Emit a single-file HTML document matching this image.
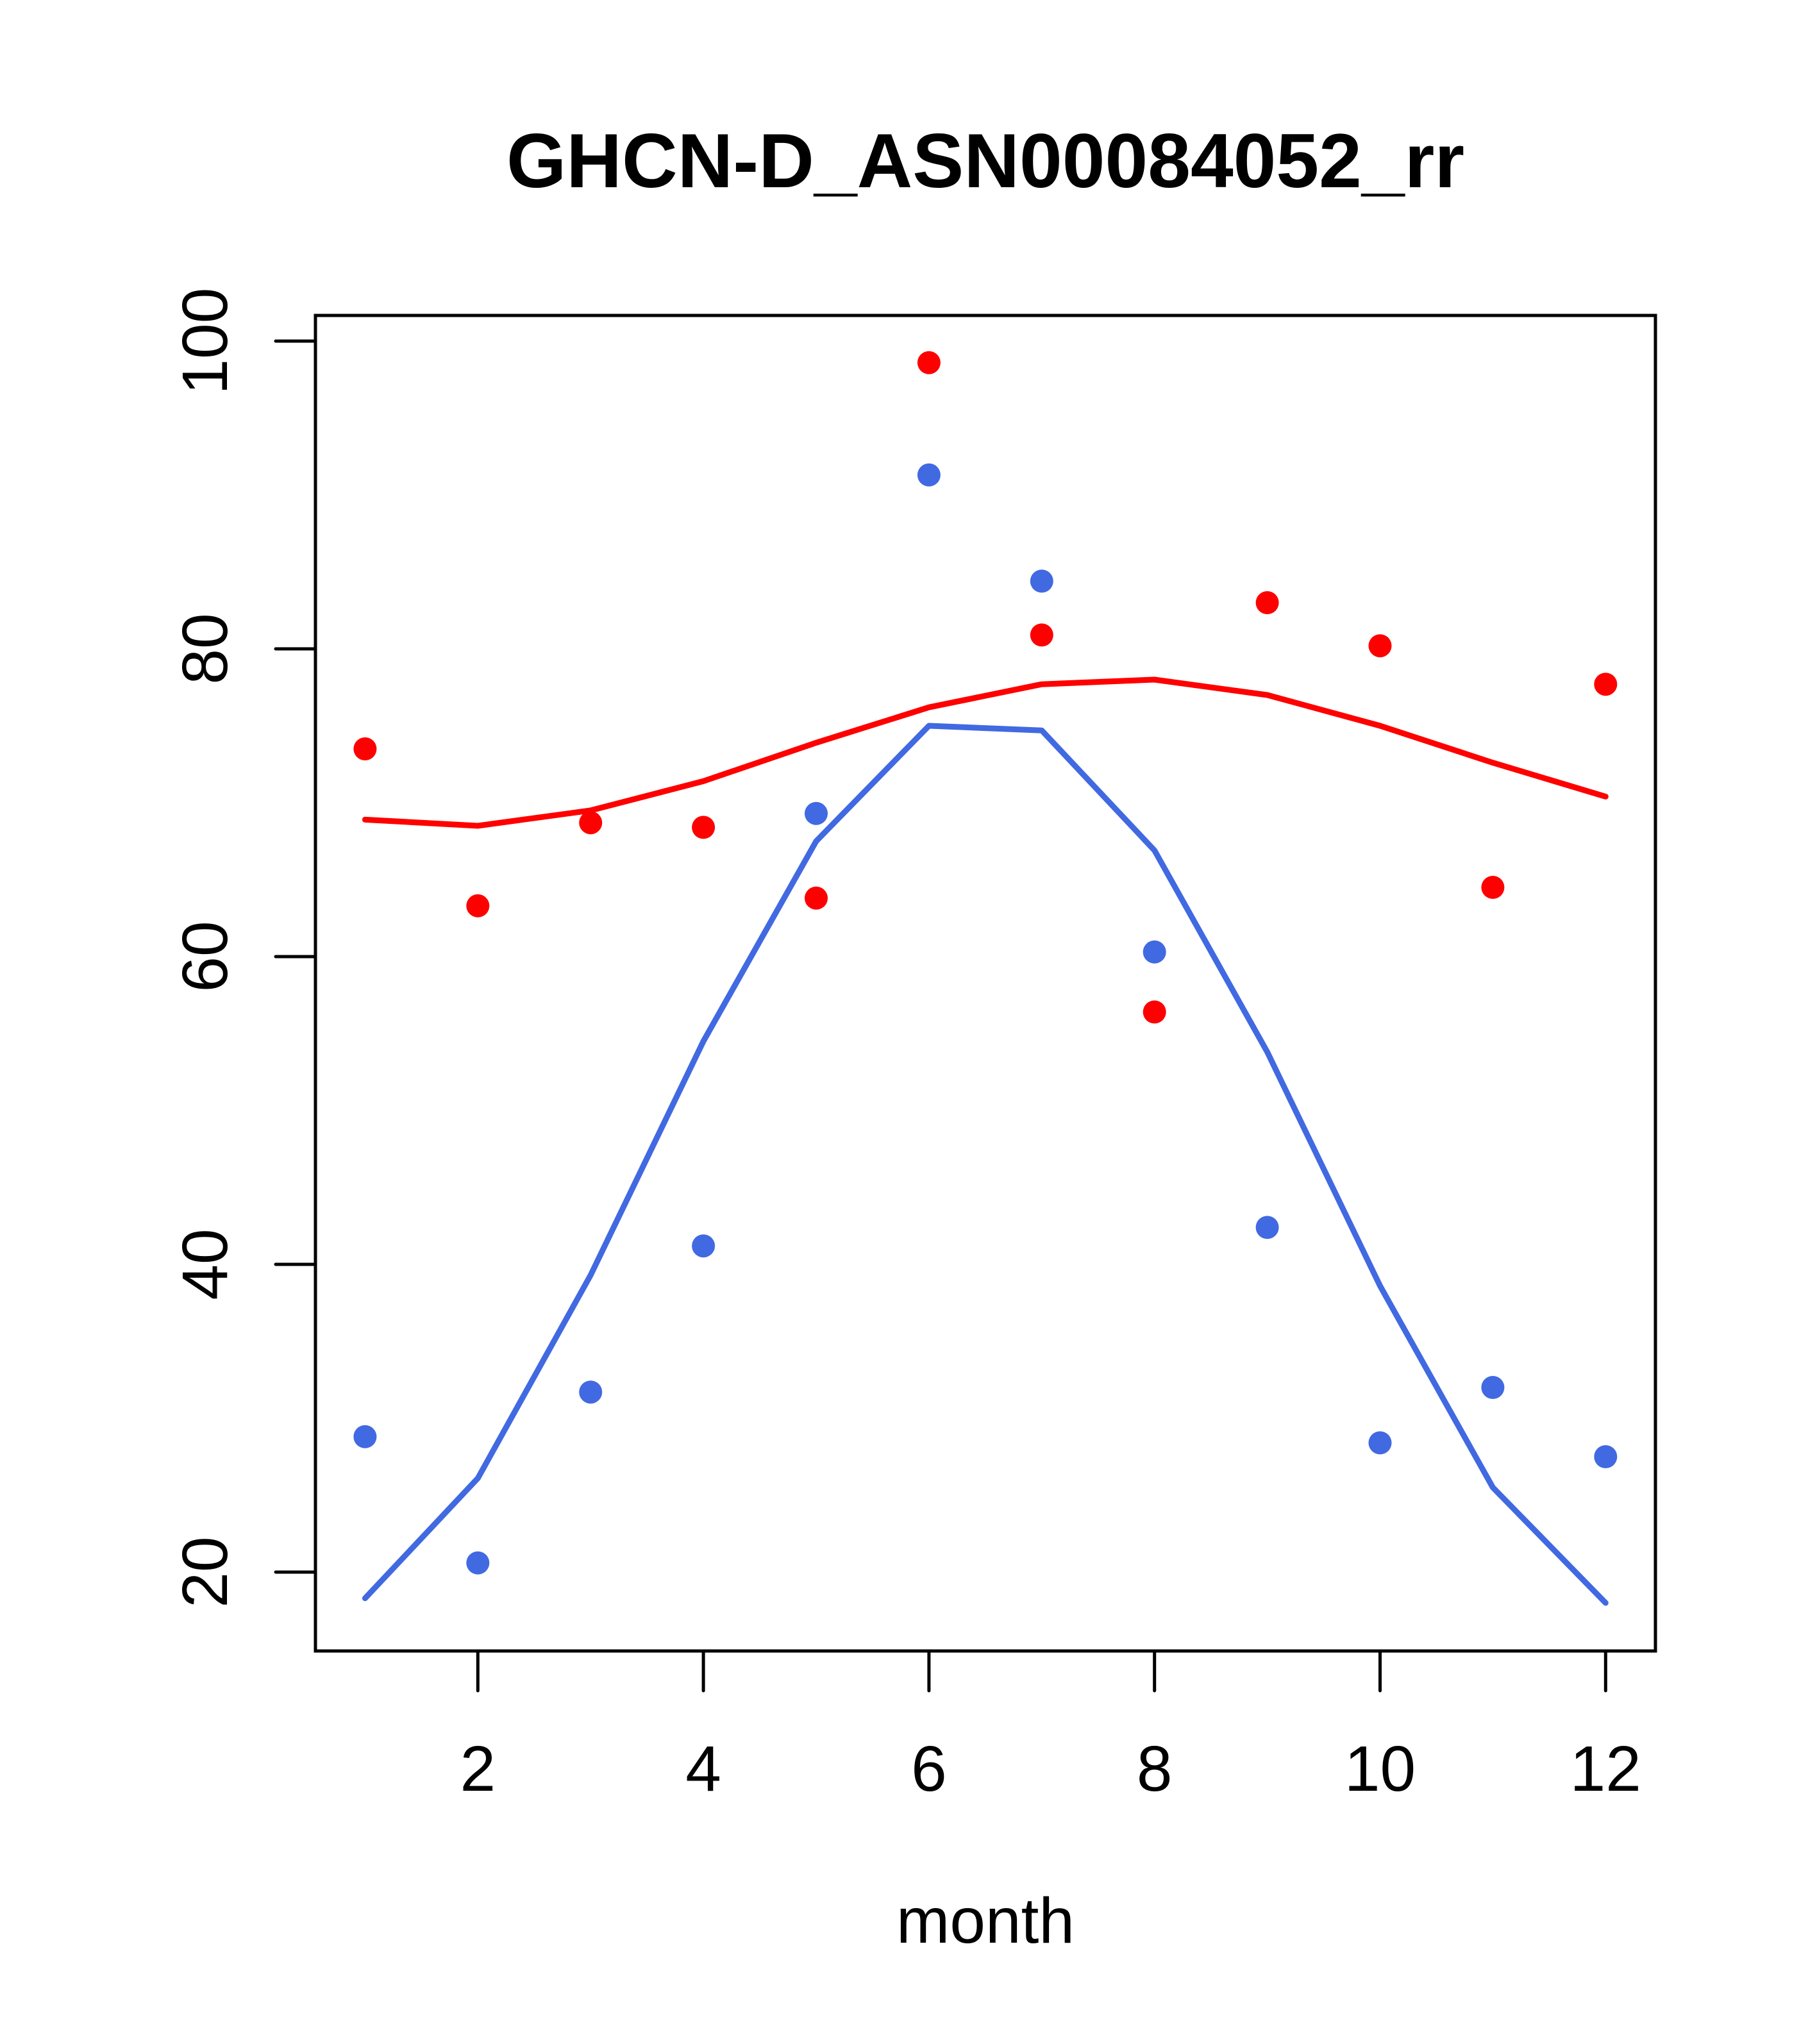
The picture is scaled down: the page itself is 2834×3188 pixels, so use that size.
<!DOCTYPE html>
<html><head><meta charset="utf-8"><style>html,body{margin:0;padding:0;background:#fff}svg{display:block}</style></head>
<body>
<svg id="chart" width="2834" height="3188" viewBox="0 0 2834 3188" xmlns="http://www.w3.org/2000/svg" font-family="'Liberation Sans', Arial, sans-serif">
<rect x="0" y="0" width="2834" height="3188" fill="#fff"/>
<text x="1537" y="292" text-anchor="middle" font-size="120" font-weight="bold">GHCN-D_ASN00084052_rr</text>
<text x="1537" y="3030" text-anchor="middle" font-size="100">month</text>
<g id="axes"></g>
<g id="series"></g>
<rect x="492" y="492" width="2090" height="2083" fill="none" stroke="#000" stroke-width="5"/>
</svg>
<script>
const months = [1,2,3,4,5,6,7,8,9,10,11,12];
const redPoints = [73.5,63.3,68.7,68.4,63.8,98.6,80.9,56.4,83.0,80.2,64.5,77.7];
const bluePoints = [28.8,20.6,31.7,41.2,69.3,91.3,84.4,60.3,42.4,28.4,32.0,27.5];
const redLine = [68.9,68.5,69.5,71.4,73.9,76.2,77.7,78.0,77.0,75.0,72.6,70.4];
const blueLine = [18.3,26.1,39.3,54.5,67.5,75.0,74.7,66.9,53.8,38.6,25.5,18.0];
const xTicks = [2,4,6,8,10,12];
const yTicks = [20,40,60,80,100];

const NS = 'http://www.w3.org/2000/svg';
function xs(m){ return 569.4 + (m-1)*175.9; }
function ys(v){ return 532 + (100-v)*24.0; }
function mk(tag, attrs, parent){ const e=document.createElementNS(NS,tag); for(const k in attrs) e.setAttribute(k,attrs[k]); parent.appendChild(e); return e; }
const axes=document.getElementById('axes'), ser=document.getElementById('series');

xTicks.forEach(t=>{
  const l=mk('line',{x1:xs(t),x2:xs(t),y1:2575,y2:2637,stroke:'#000','stroke-width':5,'stroke-linecap':'round'},axes);
  
  
  const tx=mk('text',{x:xs(t),y:2793,'text-anchor':'middle','font-size':100},axes);
  tx.textContent=t;
  
  
});
yTicks.forEach(t=>{
  const l=mk('line',{x1:430,x2:492,y1:ys(t),y2:ys(t),stroke:'#000','stroke-width':5,'stroke-linecap':'round'},axes);
  
  
  const tx=mk('text',{x:354,y:ys(t),'text-anchor':'middle','font-size':100,transform:`rotate(-90 354 ${ys(t)})`},axes);
  tx.textContent=t;
  
  
});
function line(vals,color,name){
  const p=mk('polyline',{points:vals.map((v,i)=>xs(months[i])+','+ys(v)).join(' '),fill:'none',stroke:color,'stroke-width':9,'stroke-linejoin':'round','stroke-linecap':'round'},ser);
  
  
}
function pts(vals,color,name){
  vals.forEach((v,i)=>{
    const c=mk('circle',{cx:xs(months[i]),cy:ys(v),r:18,fill:color},ser);
    
    
  });
}
line(redLine,'#ff0000','red-smooth-line');
line(blueLine,'#4169e1','blue-smooth-line');
pts(redPoints,'#ff0000','red-point');
pts(bluePoints,'#4169e1','blue-point');
</script>
</body></html>
